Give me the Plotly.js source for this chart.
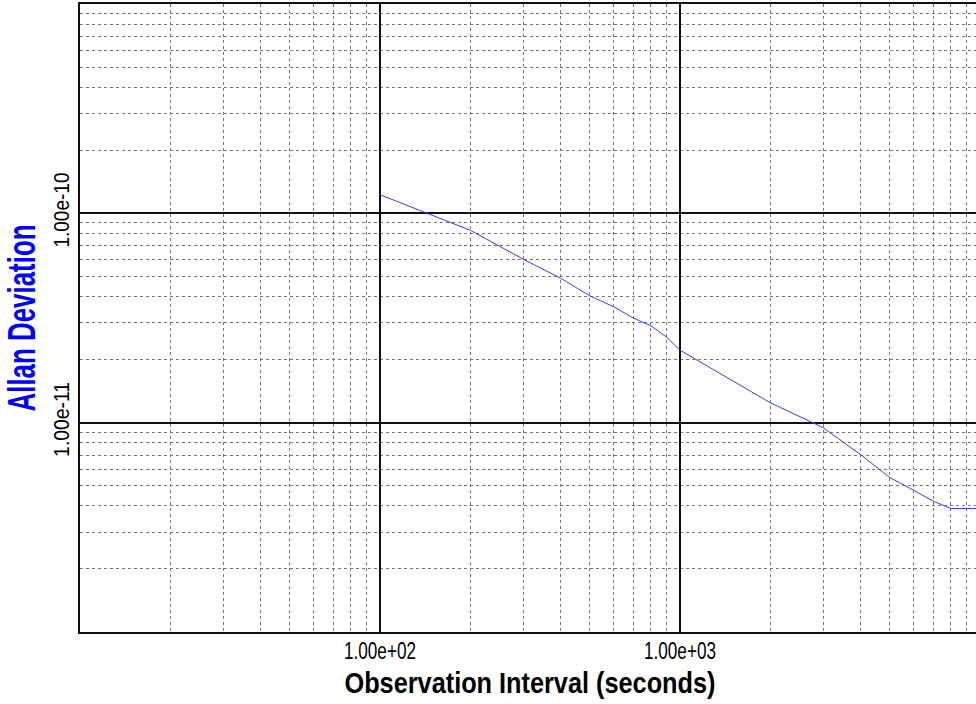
<!DOCTYPE html>
<html>
<head>
<meta charset="utf-8">
<script src="https://cdn.plot.ly/plotly-3.0.1.min.js"></script>
<style>
html, body { margin: 0; padding: 0; overflow: hidden; background: #fff; }
#chart { width: 984px; height: 704px; }
</style>
</head>
<body>
<div id="chart"></div>
<script>
// Observation interval tau (seconds)
const tau = [100, 200, 300, 400, 500, 600, 700, 800, 900, 1000, 2000, 3000, 4000, 5000, 6000, 7000, 8000, 10000];
// Allan deviation values
const adev = [1.227e-10, 8.30e-11, 6.04e-11, 4.90e-11, 4.04e-11, 3.58e-11, 3.16e-11, 2.90e-11, 2.57e-11, 2.22e-11,
              1.245e-11, 9.47e-12, 7.04e-12, 5.47e-12, 4.76e-12, 4.21e-12, 3.89e-12, 3.89e-12];

const xTickVals = [100, 1000];
const xTickText = ["1.00e+02", "1.00e+03"];
const yTickVals = [1e-10, 1e-11];
const yTickText = ["1.00e-10", "1.00e-11"];

const xDecades = [10, 100, 1000];
const yDecades = [1e-12, 1e-11, 1e-10];
function minorVals(decades) {
  const out = [];
  decades.forEach(d => { for (let k = 2; k <= 9; k++) out.push(d * k); });
  return out;
}

const FONT = '"Liberation Sans", Arial, Helvetica, sans-serif';

const trace = {
  x: tau, y: adev, type: 'scatter', mode: 'lines',
  line: { color: '#3a3aff', width: 1 },
  hoverinfo: 'skip', showlegend: false
};

const layout = {
  width: 984, height: 704,
  margin: { l: 80, r: 4, t: 4, b: 72 },
  paper_bgcolor: '#ffffff', plot_bgcolor: '#ffffff',
  font: { family: FONT, color: '#000' },
  xaxis: {
    type: 'log', range: [1, 4], autorange: false,
    tickmode: 'array', tickvals: xTickVals, ticktext: xTickText,
    tickfont: { size: 23, family: FONT, color: '#000' },
    ticks: '', ticklabelstandoff: -3,
    showgrid: true, gridcolor: '#111', gridwidth: 2,
    showline: true, linecolor: '#111', linewidth: 2, mirror: true,
    zeroline: false,
    minor: { tickmode: 'array', tickvals: minorVals(xDecades), showgrid: true, gridcolor: '#777', gridwidth: 1, griddash: 'dot', ticks: '' },
    title: { text: 'Observation Interval (seconds)', font: { size: 29, family: FONT, color: '#000', weight: 'bold' }, standoff: 10 }
  },
  yaxis: {
    type: 'log', range: [-12, -9], autorange: false,
    tickmode: 'array', tickvals: yTickVals, ticktext: yTickText,
    tickfont: { size: 22, family: FONT, color: '#000' },
    tickangle: -90, ticks: '', ticklabelstandoff: 0,
    showgrid: true, gridcolor: '#111', gridwidth: 2,
    showline: true, linecolor: '#111', linewidth: 2, mirror: true,
    zeroline: false,
    minor: { tickmode: 'array', tickvals: minorVals(yDecades), showgrid: true, gridcolor: '#777', gridwidth: 1, griddash: 'dot', ticks: '' },
    title: { text: 'Allan Deviation', font: { size: 39, family: FONT, color: '#0000ff', weight: 'bold' }, standoff: 10 }
  }
};

function condense(selector, len) {
  document.querySelectorAll(selector).forEach(el => {
    el.setAttribute('textLength', len);
    el.setAttribute('lengthAdjust', 'spacingAndGlyphs');
  });
}

Plotly.newPlot('chart', [trace], layout, { staticPlot: true, displayModeBar: false }).then(() => {
  condense('.xtick text', 72);
  condense('.ytick text', 75);
  condense('.xtitle', 371);
  condense('.ytitle', 187);
});
</script>
</body>
</html>
